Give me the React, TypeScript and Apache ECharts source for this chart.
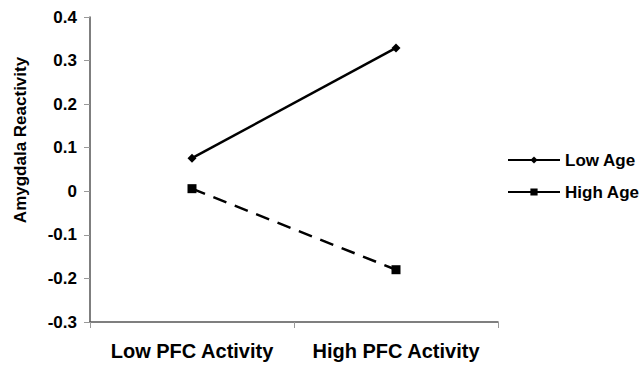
import React, { useEffect, useRef } from "react";
import * as echarts from "echarts";

const categories = ["Low PFC Activity", "High PFC Activity"];
const lowAge = [0.076, 0.329];
const highAge = [0.006, -0.18];
const seriesNames = ["Low Age", "High Age"];

const FONT = "'Liberation Sans', Arial, Helvetica, sans-serif";

export default function App() {
  const ref = useRef<HTMLDivElement>(null);
  useEffect(() => {
    if (!ref.current) return;
    const chart = echarts.init(ref.current, undefined, { renderer: "svg" });
    chart.setOption({
      animation: false,
      backgroundColor: "#ffffff",
      grid: { left: 90, right: 146, top: 17, bottom: 44, containLabel: false },
      xAxis: {
        type: "category",
        data: categories,
        boundaryGap: true,
        axisLine: { onZero: false, lineStyle: { color: "#555555", width: 1.5 } },
        axisTick: { show: true, length: 6, alignWithLabel: false, lineStyle: { color: "#999999" } },
        axisLabel: {
          color: "#000",
          fontFamily: FONT,
          fontWeight: "bold",
          fontSize: 20,
          margin: 19,
          interval: 0,
        },
        splitLine: { show: false },
      },
      yAxis: {
        type: "value",
        min: -0.3,
        max: 0.4,
        interval: 0.1,
        axisLine: { show: true, lineStyle: { color: "#555555", width: 1.5 } },
        axisTick: { show: true, length: 6, lineStyle: { color: "#999999" } },
        axisLabel: {
          color: "#000",
          fontFamily: FONT,
          fontWeight: "bold",
          fontSize: 17,
          margin: 13,
          formatter: (v: number) => {
            const r = Math.round(v * 10) / 10;
            return r === 0 ? "0" : r.toFixed(1);
          },
        },
        splitLine: { show: false },
      },
      legend: {
        orient: "vertical",
        left: 502,
        top: 145,
        itemWidth: 52,
        itemHeight: 9,
        itemGap: 12,
        data: seriesNames,
        lineStyle: { type: "solid" },
        textStyle: {
          color: "#000",
          fontFamily: FONT,
          fontWeight: "bold",
          fontSize: 17,
          lineHeight: 20,
        },
      },
      graphic: [
        {
          type: "text",
          x: 20,
          y: 140,
          rotation: Math.PI / 2,
          style: {
            text: "Amygdala Reactivity",
            fontFamily: FONT,
            fontWeight: "bold",
            fontSize: 17,
            fill: "#000",
            align: "center",
            verticalAlign: "middle",
          },
        },
      ],
      series: [
        {
          name: seriesNames[0],
          type: "line",
          data: lowAge,
          symbol: "diamond",
          symbolSize: 9,
          lineStyle: { color: "#000", width: 2.5, type: "solid" },
          itemStyle: { color: "#000" },
        },
        {
          name: seriesNames[1],
          type: "line",
          data: highAge,
          symbol: "rect",
          symbolSize: 9,
          lineStyle: { color: "#000", width: 2.5, type: [14, 9] },
          itemStyle: { color: "#000" },
        },
      ],
    });
    return () => chart.dispose();
  }, []);
  return (
    <div
      ref={ref}
      style={{ position: "absolute", left: 0, top: 0, width: 644, height: 366 }}
    />
  );
}
